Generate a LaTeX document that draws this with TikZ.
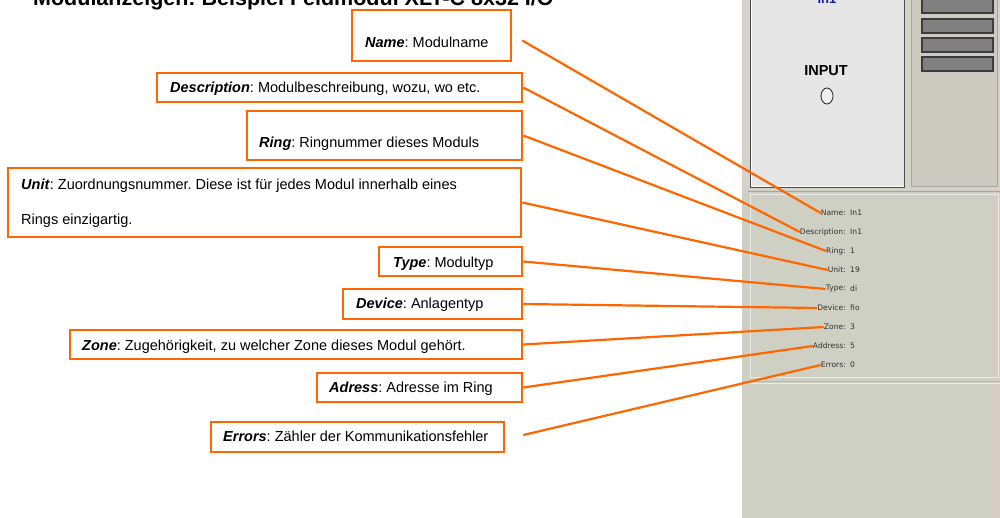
\documentclass[tikz,border=0pt]{standalone}
\usepackage{fontspec}
\setmainfont{Liberation Sans}
\newfontfamily\uifont{DejaVu Sans}
\usetikzlibrary{calc,shapes.geometric}
\definecolor{callout}{HTML}{FF6600}
\definecolor{winupper}{HTML}{D6D2CA}
\definecolor{winlower}{HTML}{CFD0C4}
\definecolor{winstrip}{HTML}{D7CCC4}
\definecolor{panelbg}{HTML}{E6E6E6}
\definecolor{btnfill}{HTML}{808080}
\definecolor{btnedge}{HTML}{3C3C3C}
\definecolor{uitext}{HTML}{303030}
\definecolor{modblue}{HTML}{1A1AB4}
\tikzset{
  cbox/.style={draw=callout, line width=2.6, fill=white, rectangle, inner sep=0pt},
  ctext/.style={anchor=base west, inner sep=0pt, font=\fontsize{14.5}{16}\selectfont},
  conn/.style={draw=callout, line width=2.2},
  uilabel/.style={inner sep=0pt, text=uitext, font=\uifont\fontsize{7.6}{8}\selectfont},
  btn/.style={fill=btnfill, draw=btnedge, line width=1.2},
}
\begin{document}
\frenchspacing
\begin{tikzpicture}[x=1pt,y=-1pt]
\useasboundingbox (0,0) rectangle (1000,518);
\clip (0,0) rectangle (1000,518);
\fill[white] (0,0) rectangle (1000,518);

% title line, partly cut off at the top edge
\node[anchor=base west, inner sep=0pt, font=\bfseries\fontsize{21.5}{23}\selectfont] (title) at (33,6)
  {Modulanzeigen: Beispiel Feldmodul XLT-C 8x32 I/O};

% ---- module window ----
\fill[winupper] (742,0) rectangle (1000,190);
\fill[winlower] (742,190) rectangle (1000,518);
\fill[winstrip] (991,190) rectangle (1000,518);
\filldraw[fill=panelbg, draw=gray!60!black, line width=1] (750,-3) rectangle (904,188);
\draw[white, line width=0.8] (751.5,-3) -- (751.5,186.5) -- (903,186.5);
\filldraw[fill=winupper!96!black, draw=gray!70, line width=0.8] (911,-3) rectangle (997,186);
\foreach \y in {-1,19,38,57}
  \draw[btn] (922,\y) rectangle (993,\y+14);
\node[inner sep=0pt, text=modblue, font=\bfseries\fontsize{13}{14}\selectfont] (modname) at (827,-1) {In1};
\node[inner sep=0pt, font=\bfseries\fontsize{14.5}{16}\selectfont] (input) at (826,71) {INPUT};
\node[draw=gray!40!black, fill=white!94!black, ellipse, minimum width=12, minimum height=16, inner sep=0pt, line width=0.9] (led) at (827,96) {};
\draw[gray!70, line width=1] (748,192) -- (1000,192);
\draw[white!92!black, line width=1] (750,195) rectangle (998,377);
\draw[gray!55, line width=0.8] (742,381) -- (1000,381);
\draw[white!92!black, line width=0.8] (742,383) -- (1000,383);

% module properties
\foreach \id/\lab/\val/\y in {lname/Name:/In1/213, ldesc/Description:/In1/232, lring/Ring:/1/251,
  lunit/Unit:/19/270, ltype/Type:/di/289, ldev/Device:/fio/308, lzone/Zone:/3/327,
  laddr/Address:/5/346, lerr/Errors:/0/365} {
  \node[uilabel, anchor=east] (\id) at (846,\y) {\lab};
  \node[uilabel, anchor=west] at (850,\y) {\val};
}

% ---- callout boxes ----
\node[cbox, minimum width=159, minimum height=51] (bname) at (431.5,35.5) {};
\node[ctext] at (365,48) {\textbf{\textit{Name}}: Modulname};

\node[cbox, minimum width=365, minimum height=29] (bdesc) at (339.5,87.5) {};
\node[ctext] at (170,92.5) {\textbf{\textit{Description}}: Modulbeschreibung, wozu, wo etc.};

\node[cbox, minimum width=275, minimum height=49] (bring) at (384.5,135.5) {};
\node[ctext] at (259,148) {\textbf{\textit{Ring}}: Ringnummer dieses Moduls};

\node[cbox, minimum width=513, minimum height=69] (bunit) at (264.5,202.5) {};
\node[ctext] at (21,190) {\textbf{\textit{Unit}}: Zuordnungsnummer. Diese ist für jedes Modul innerhalb eines};
\node[ctext] at (21,225) {Rings einzigartig.};

\node[cbox, minimum width=143, minimum height=29] (btype) at (450.5,261.5) {};
\node[ctext] at (393,267.5) {\textbf{\textit{Type}}: Modultyp};

\node[cbox, minimum width=179, minimum height=30] (bdev) at (432.5,304) {};
\node[ctext] at (356,308.5) {\textbf{\textit{Device}}: Anlagentyp};

\node[cbox, minimum width=452, minimum height=29] (bzone) at (296,344.5) {};
\node[ctext] at (82,350.5) {\textbf{\textit{Zone}}: Zugehörigkeit, zu welcher Zone dieses Modul gehört.};

\node[cbox, minimum width=205, minimum height=29] (baddr) at (419.5,387.5) {};
\node[ctext] at (329,392.5) {\textbf{\textit{Adress}}: Adresse im Ring};

\node[cbox, minimum width=293, minimum height=30] (berr) at (357.5,437) {};
\node[ctext] at (223,441.5) {\textbf{\textit{Errors}}: Zähler der Kommunikationsfehler};

% ---- connectors ----
\draw[conn] ($(bname.east)+(10,5)$) -- (lname.west);
\draw[conn] (bdesc.east) -- (ldesc.west);
\draw[conn] (bring.east) -- (lring.west);
\draw[conn] (bunit.east) -- (lunit.west);
\draw[conn] (btype.east) -- (ltype.west);
\draw[conn] (bdev.east) -- (ldev.west);
\draw[conn] (bzone.east) -- (lzone.west);
\draw[conn] (baddr.east) -- (laddr.west);
\draw[conn] ($(berr.east)+(18,-2)$) -- (lerr.west);
\end{tikzpicture}
\end{document}
